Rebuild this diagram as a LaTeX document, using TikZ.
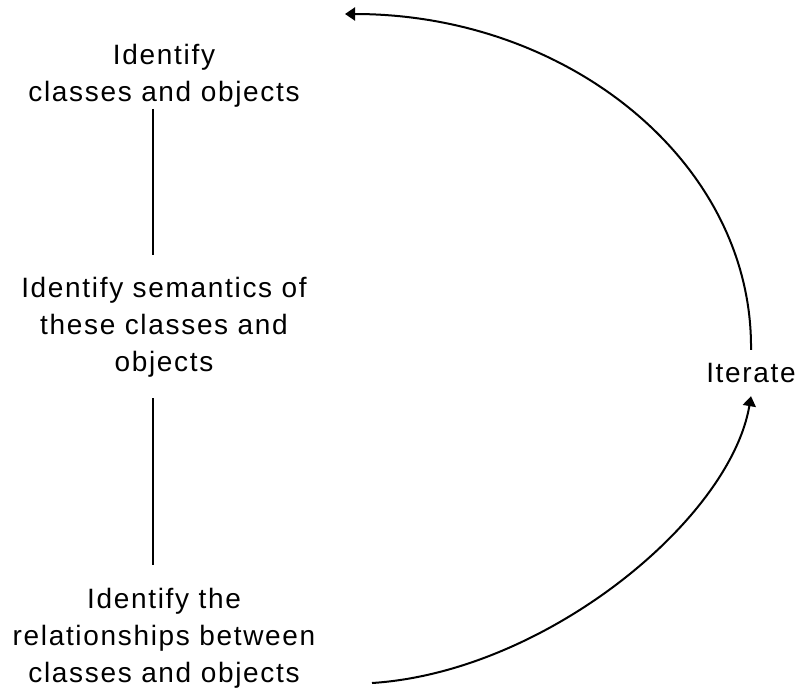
\documentclass[tikz,border=0pt]{standalone}
\usepackage{fontspec}
\setmainfont{Liberation Sans}[LetterSpace=6]
\usetikzlibrary{arrows.meta}

\begin{document}
\begin{tikzpicture}[x=0.5pt, y=-0.5pt,
    task/.style={align=center, inner sep=0pt, font=\fontsize{14}{18.5}\selectfont},
    link/.style={line width=0.6pt},
    iter/.style={line width=1pt, -{Triangle[length=5pt, width=6.5pt]}}]
  \useasboundingbox (0,0) rectangle (802,696);

  % Nodes
  \node[task] (classes) at (164,76) {Identify\\classes and objects};
  \node[task] (semantics) at (164,327) {Identify semantics of\\these classes and\\objects};
  \node[task] (relations) at (164,638) {Identify the\\relationships between\\classes and objects};
  \node[task, inner xsep=3pt, inner ysep=6.5pt] (iterate) at (751,373) {Iterate};
  \coordinate (loopstart) at (372,683);
  \coordinate (loopend) at (345,14);

  % Edges
  \draw[link, shorten <=0.5pt, shorten >=10.75pt] ([xshift=-5.5pt]classes.south) -- ([xshift=-5.5pt]semantics.north);
  \draw[link, shorten <=10.5pt, shorten >=11.25pt] ([xshift=-5.5pt]semantics.south) -- ([xshift=-5.5pt]relations.north);
  \draw[iter] (loopstart) .. controls (545,672) and (730,520) .. (iterate.south);
  \draw[iter] (iterate.north) .. controls (753,164) and (570,14) .. (loopend);
\end{tikzpicture}
\end{document}
